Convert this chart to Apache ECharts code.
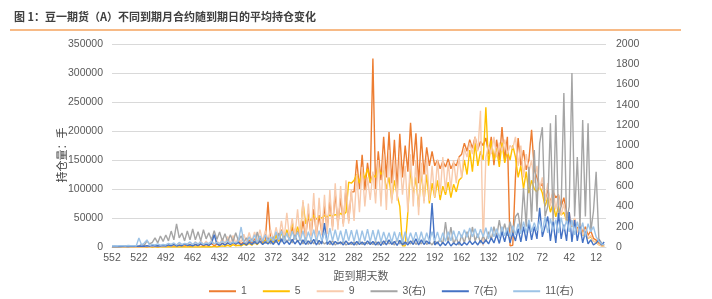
<!DOCTYPE html>
<html><head><meta charset="utf-8">
<script src="https://cdn.jsdelivr.net/npm/echarts@6/dist/echarts.min.js"></script>
<style>html,body{margin:0;padding:0;background:#fff}#c{width:712px;height:299px}</style>
</head><body><div id="c"></div>
<script>
const titleText = '图 1：豆一期货（A）不同到期月合约随到期日的平均持仓变化';
const yLeftName = '持仓量：手';
const xName = '距到期天数';
const seriesNames = ['1', '5', '9', '3(右)', '7(右)', '11(右)'];
const colors = ['#ED7D31', '#FFC000', '#F8CBAD', '#A5A5A5', '#4472C4', '#9DC3E6'];
// categories: days to expiry 552 .. 1
const days = [];
for (let d = 552; d >= 1; d--) days.push(String(d));
// readings every 3 days starting at day 552 (552, 549, ..., 3)
const sampleStep = 3;
const s1 = [
0,0,0,0,0,0,0,0,0,0,
0,0,0,0,1000,0,1000,0,1000,1000,
1000,2000,1000,2000,1000,3000,1000,2000,3000,1000,
2000,4000,2000,5000,2000,4000,3000,6000,2000,5000,
3000,7000,3000,8000,4000,9000,4000,10000,5000,9000,
5000,12000,6000,14000,7000,16000,8000,12000,78000,10000,
9000,22000,10000,30000,12000,26000,11000,35000,14000,28000,
15000,45000,18000,58000,20000,65000,22000,55000,25000,70000,
30000,80000,35000,93000,38000,85000,40000,103000,45000,95000,
95000,150000,100000,159000,98000,145000,110000,325000,100000,165000,
115000,190000,120000,198000,110000,185000,101000,195000,120000,175000,
130000,214000,140000,196000,110000,190000,125000,172000,140000,165000,
140000,150000,135000,148000,138000,152000,135000,145000,140000,155000,
160000,179000,165000,185000,170000,190000,168000,182000,175000,188000,
160000,190000,141000,185000,150000,207000,150000,190000,2000,3000,
120000,188000,140000,167000,133000,150000,202000,133000,120000,103000,
110000,80000,100000,76000,95000,85000,90000,70000,85000,60000,
52000,35000,48000,30000,40000,25000,35000,20000,28000,15000,
12000,6000,3000,1000];
const s5 = [
0,0,0,0,0,0,0,0,0,0,
0,0,0,0,0,0,0,0,0,0,
0,0,0,0,0,0,0,0,0,0,
0,0,0,0,500,0,500,0,1000,0,
1000,2000,1000,3000,1000,4000,2000,3000,2000,5000,
3000,6000,3000,8000,4000,10000,5000,12000,6000,15000,
8000,20000,10000,25000,12000,30000,15000,43000,20000,35000,
20000,77000,40000,52000,45000,55000,48000,52000,50000,54000,
52000,55000,53000,56000,54000,58000,55000,60000,112000,110000,
115000,125000,110000,130000,118000,135000,112000,125000,120000,138000,
125000,133000,100000,120000,81000,115000,90000,70000,2000,2000,
60000,136000,90000,120000,69000,130000,80000,125000,75000,110000,
85000,115000,81000,105000,90000,112000,85000,108000,95000,115000,
120000,150000,125000,167000,130000,179000,140000,165000,150000,241000,
140000,184000,150000,170000,138000,180000,145000,165000,150000,175000,
155000,120000,140000,100000,130000,93000,115000,100000,95000,105000,
93000,70000,85000,60000,75000,52000,70000,55000,60000,45000,
50000,35000,42000,28000,35000,20000,25000,15000,18000,10000,
8000,4000,2000,1000];
const s9 = [
0,0,0,0,0,0,0,0,0,0,
0,500,0,1000,0,1500,500,2000,500,2000,
1000,4000,1500,5000,2000,7000,2000,6000,3000,8000,
3000,9000,3000,11000,4000,10000,4000,12000,5000,11000,
5000,15000,6000,18000,6000,20000,7000,16000,8000,22000,
8000,25000,9000,26000,10000,30000,10000,28000,12000,30000,
12000,34000,14000,45000,15000,59000,16000,50000,18000,65000,
15000,81000,14000,75000,18000,93000,16000,85000,20000,90000,
22000,98000,28000,110000,30000,105000,35000,115000,40000,100000,
45000,125000,60000,138000,70000,120000,81000,130000,75000,150000,
70000,160000,64000,167000,75000,150000,80000,155000,90000,140000,
60000,160000,70000,150000,55000,145000,75000,155000,80000,140000,
86000,150000,90000,155000,95000,145000,100000,150000,110000,155000,
120000,170000,155000,180000,160000,190000,165000,235000,2000,155000,
175000,160000,190000,155000,180000,165000,185000,160000,175000,170000,
190000,140000,175000,120000,160000,130000,150000,110000,140000,100000,
120000,80000,110000,70000,100000,65000,90000,55000,75000,45000,
60000,35000,50000,25000,40000,20000,30000,15000,20000,10000,
8000,4000,2000,1000];
const s3 = [
0,2,0,3,2,5,3,6,4,8,
10,25,15,60,30,45,90,40,108,55,
118,60,157,70,227,90,138,60,158,70,
177,70,150,60,170,80,140,70,160,75,
148,60,130,50,120,55,140,60,110,50,
90,40,80,30,148,40,70,35,90,30,
100,40,138,50,110,45,90,40,120,50,
80,30,90,25,70,30,85,25,60,30,
50,25,60,20,45,30,55,20,40,25,
50,20,60,25,45,30,50,25,55,20,
60,25,70,30,50,20,80,30,60,25,
55,30,70,25,60,30,80,25,50,20,
60,30,80,30,246,40,197,30,90,20,
120,40,150,50,197,60,130,40,110,50,
150,70,200,100,266,120,230,110,250,130,
300,335,150,580,200,790,250,955,350,1020,
1180,300,400,1220,250,1300,300,400,1517,250,
400,1714,300,886,200,1250,300,1220,150,350,
740,80,40,20];
const s7 = [
5,5,6,5,6,7,5,6,8,6,
8,10,7,12,8,15,10,12,9,14,
10,20,12,25,10,18,12,30,15,22,
12,25,15,30,18,28,15,35,120,30,
15,35,20,40,25,45,30,45,20,40,
20,50,25,55,30,60,25,50,30,60,
25,70,20,80,30,60,25,75,30,65,
20,70,25,60,30,75,20,65,30,236,
25,60,20,55,30,50,20,60,25,50,
20,55,25,50,20,60,25,55,20,50,
15,60,20,70,25,55,15,65,20,50,
20,60,25,80,20,70,25,60,30,433,
20,50,10,45,15,55,10,40,20,50,
15,45,20,60,25,55,20,65,30,70,
30,90,40,120,35,150,50,167,40,140,
60,180,50,200,60,236,70,200,80,385,
100,200,300,60,250,40,335,80,220,60,
345,50,266,60,200,40,150,30,70,20,
40,70,20,50];
const s11 = [
10,12,10,14,12,10,15,12,14,10,
89,20,40,70,15,25,20,30,18,25,
20,35,25,40,20,45,25,35,30,50,
25,45,30,50,25,40,35,55,30,45,
35,55,40,60,35,50,40,60,197,50,
40,100,50,120,45,110,60,120,50,100,
60,150,70,160,55,140,60,155,70,150,
60,160,50,150,65,170,55,160,60,150,
50,187,60,170,55,160,50,175,60,165,
55,170,45,160,60,175,50,165,55,170,
50,148,60,140,45,150,55,145,40,150,
50,140,60,145,50,150,45,140,55,150,
60,148,50,140,55,150,60,160,70,155,
90,170,95,187,100,180,90,175,100,190,
80,197,100,180,90,200,110,190,100,210,
120,230,130,250,140,270,150,240,160,260,
150,296,140,280,160,270,138,290,170,260,
150,266,120,250,140,240,100,230,150,200,
100,60,30,20];
const leftMax = 350000, leftInterval = 50000;
const rightMax = 2000, rightInterval = 200;

const allVals = [s1, s5, s9, s3, s7, s11];
const yIdx = [0, 0, 0, 1, 1, 1];
const FONT = "'Liberation Sans', Arial, 'Noto Sans CJK SC', sans-serif";
const plain = v => String(v);
const chart = echarts.init(document.getElementById('c'), null, {renderer: 'canvas'});
chart.setOption({
  animation: false,
  color: colors,
  textStyle: {fontFamily: FONT},
  grid: {left: 112, right: 106, top: 44, bottom: 52, containLabel: false},
  graphic: [
    {type: 'text', left: 14, top: 11, style: {text: titleText, fill: '#404040', font: "bold 11px 'Noto Sans CJK SC', sans-serif"}},
    {type: 'line', shape: {x1: 10, y1: 30, x2: 681, y2: 30}, style: {stroke: '#F5A35E', lineWidth: 1.5}},
    {type: 'text', x: 62, y: 155, rotation: Math.PI / 2, style: {text: yLeftName, fill: '#404040', font: "11px 'Noto Sans CJK SC', sans-serif", align: 'center', verticalAlign: 'middle'}},
    {type: 'text', x: 361, y: 276, style: {text: xName, fill: '#595959', font: "11px 'Noto Sans CJK SC', sans-serif", align: 'center', verticalAlign: 'middle'}}
  ],
  legend: {
    data: seriesNames, left: 204, top: 281, itemWidth: 27, itemHeight: 2, itemGap: 16, icon: 'rect',
    textStyle: {fontSize: 10.5, color: '#595959', fontFamily: FONT}
  },
  xAxis: {
    type: 'category', data: days, boundaryGap: false,
    axisLine: {lineStyle: {color: '#D9D9D9'}},
    axisTick: {show: false},
    axisLabel: {interval: 29, color: '#595959', fontSize: 10.5, margin: 6},
    splitLine: {show: false}
  },
  yAxis: [
    {type: 'value', min: 0, max: leftMax, interval: leftInterval,
     axisLine: {show: false}, axisTick: {show: false},
     axisLabel: {color: '#595959', fontSize: 10.5, margin: 9, formatter: plain},
     splitLine: {lineStyle: {color: '#D9D9D9'}}},
    {type: 'value', min: 0, max: rightMax, interval: rightInterval,
     axisLine: {show: false}, axisTick: {show: false},
     axisLabel: {color: '#595959', fontSize: 10.5, margin: 10, formatter: plain},
     splitLine: {show: false}}
  ],
  series: seriesNames.map((name, k) => ({
    name: name, type: 'line', yAxisIndex: yIdx[k], symbol: 'none', showSymbol: false,
    lineStyle: {width: 1.4, color: colors[k]}, itemStyle: {color: colors[k]},
    data: allVals[k].map((v, i) => [i * sampleStep, v])
  }))
});
</script></body></html>
